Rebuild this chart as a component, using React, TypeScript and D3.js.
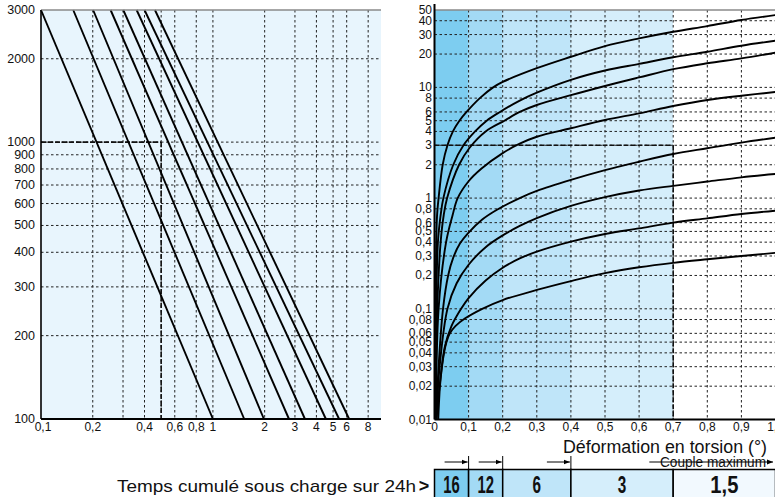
import React from 'react';
import * as d3 from 'd3';

// ---------- Left chart data ----------
const leftXTickValues = [0.1, 0.2, 0.4, 0.6, 0.8, 1, 2, 3, 4, 5, 6, 8];
const leftXGridValues = [0.2, 0.3, 0.4, 0.5, 0.6, 0.8, 1, 2, 3, 4, 5, 6, 8];
const leftYTickValues = [3000, 2000, 1000, 900, 800, 700, 600, 500, 400, 300, 200, 100];
// each straight line (log-log) given by its x value at y=3000 and at y=100
const leftLineXAt3000 = [0.1, 0.154, 0.201, 0.254, 0.301, 0.36, 0.4, 0.46];
const leftLineXAt100 = [1.0, 1.52, 1.98, 2.77, 3.43, 4.54, 5.42, 6.2];
const leftRefX = 0.5;
const leftRefY = 1000;

// ---------- Right chart data ----------
const rightXTickValues = [0, 0.1, 0.2, 0.3, 0.4, 0.5, 0.6, 0.7, 0.8, 0.9, 1.0];
const rightYTickValues = [50, 40, 30, 20, 10, 8, 6, 5, 4, 3, 2, 1, 0.8, 0.6, 0.5, 0.4, 0.3, 0.2, 0.1, 0.08, 0.06, 0.05, 0.04, 0.03, 0.02, 0.01];
const bandEdges = [0, 0.1, 0.2, 0.4, 0.7, 1.0];
const bandFills = ['#7dcdf0', '#a3daf5', '#bfe5f9', '#d5eefb', '#ffffff'];
const tableFills = ['#7dcdf0', '#a3daf5', '#bfe5f9', '#d5eefb', '#f2f9fe'];
const hoursLabels = ['16', '12', '6', '3', '1,5'];
const rightRefX = 0.7;
const rightRefY = 3;

const curve1: [number, number][] = [[0.002, 0.01], [0.003, 0.1], [0.005, 0.4], [0.0075, 0.7], [0.012, 1], [0.024, 2], [0.038, 3], [0.054, 4], [0.073, 5], [0.094, 6], [0.133, 8], [0.172, 10], [0.2, 11.2], [0.3, 14.9], [0.4, 18.9], [0.5, 23.6], [0.6, 27.7], [0.7, 31.8], [0.8, 35.8], [0.9, 40.6], [1.0, 45]];
const curve2: [number, number][] = [[0.002, 0.01], [0.005, 0.1], [0.01, 0.4], [0.018, 0.7], [0.026, 1], [0.055, 2], [0.085, 3], [0.119, 4], [0.153, 5], [0.192, 6], [0.25, 7.6], [0.3, 8.96], [0.4, 11.7], [0.5, 14.2], [0.6, 16.3], [0.7, 18.7], [0.8, 21], [0.9, 23.8], [1.0, 26.4]];
const curve3: [number, number][] = [[0.003, 0.01], [0.008, 0.1], [0.018, 0.4], [0.027, 0.7], [0.037, 1], [0.072, 2], [0.103, 2.85], [0.15, 4], [0.205, 5], [0.25, 6.0], [0.3, 6.93], [0.4, 8.5], [0.5, 10.3], [0.6, 12.3], [0.7, 14.6], [0.8, 16.5], [0.9, 18.3], [1.0, 20.6]];
const curve4: [number, number][] = [[0.004, 0.01], [0.012, 0.1], [0.034, 0.4], [0.053, 0.7], [0.068, 1], [0.1, 1.42], [0.138, 1.85], [0.2, 2.55], [0.25, 3.1], [0.3, 3.58], [0.4, 4.27], [0.5, 5.07], [0.6, 5.83], [0.7, 6.79], [0.8, 7.69], [0.9, 8.41], [1.0, 9.08]];
const curve5: [number, number][] = [[0.005, 0.01], [0.012, 0.03], [0.025, 0.1], [0.04, 0.2], [0.055, 0.29], [0.075, 0.39], [0.098, 0.48], [0.14, 0.64], [0.182, 0.78], [0.25, 1.0], [0.3, 1.16], [0.4, 1.46], [0.5, 1.79], [0.6, 2.13], [0.7, 2.5], [0.8, 2.82], [0.9, 3.17], [1.0, 3.51]];
const curve6: [number, number][] = [[0.005, 0.01], [0.015, 0.03], [0.038, 0.1], [0.065, 0.17], [0.1, 0.25], [0.15, 0.36], [0.2, 0.46], [0.25, 0.56], [0.3, 0.66], [0.4, 0.85], [0.5, 1.02], [0.6, 1.17], [0.7, 1.29], [0.8, 1.41], [0.9, 1.54], [1.0, 1.65]];
const curve7: [number, number][] = [[0.006, 0.01], [0.015, 0.02], [0.03, 0.045], [0.05, 0.07], [0.078, 0.1], [0.1, 0.125], [0.15, 0.18], [0.2, 0.235], [0.25, 0.285], [0.3, 0.328], [0.4, 0.404], [0.5, 0.474], [0.6, 0.533], [0.7, 0.6], [0.8, 0.656], [0.9, 0.718], [1.0, 0.77]];
const curve8: [number, number][] = [[0.011, 0.01], [0.016, 0.02], [0.022, 0.03], [0.028, 0.04], [0.035, 0.05], [0.045, 0.06], [0.062, 0.07], [0.09, 0.082], [0.14, 0.1], [0.2, 0.12], [0.3, 0.148], [0.4, 0.178], [0.5, 0.21], [0.6, 0.237], [0.7, 0.26], [0.8, 0.28], [0.9, 0.3], [1.0, 0.32]];
const rightCurves = [curve1, curve2, curve3, curve4, curve5, curve6, curve7, curve8];

// ---------- Texts ----------
const xTitle = 'Déformation en torsion (°)';
const rowTitle = 'Temps cumulé sous charge sur 24h';
const coupleText = 'Couple maximum';

const FONT = "'Liberation Sans Narrow','Arial Narrow','Liberation Sans',Arial,sans-serif";
const fmt = (v: number) => String(v).replace('.', ',');

export default function App() {
  // left scales
  const xL = d3.scaleLog().domain([0.1, 9.5]).range([41, 381]);
  const yL = d3.scaleLog().domain([100, 3000]).range([419, 10]);
  // right scales
  const xR = d3.scaleLinear().domain([0, 1]).range([434.5, 775.5]);
  const yR = d3.scaleLog().domain([0.01, 50]).range([419.5, 10]);

  const grid = { stroke: '#222', strokeWidth: 1, strokeDasharray: '2.5,2.5' };
  const thick = { stroke: '#111', strokeWidth: 1.6, strokeDasharray: '5,2' };

  const lineGen = d3.line<[number, number]>()
    .x(d => xR(d[0]))
    .y(d => yR(d[1]))
    .curve(d3.curveCatmullRom.alpha(0.5));

  const tableTop = 469.5;
  const arrowY = 462;

  return (
    <svg width={775} height={497} style={{ position: 'absolute', left: 0, top: 0, fontFamily: FONT }}>
      <defs>
        <clipPath id="rclip">
          <rect x={xR(0)} y={yR(50)} width={xR(1) - xR(0)} height={yR(0.01) - yR(50)} />
        </clipPath>
        <marker id="ah" viewBox="0 0 10 10" refX="10" refY="5" markerWidth="6" markerHeight="6" orient="auto">
          <path d="M0,1 L10,5 L0,9 Z" fill="#000" />
        </marker>
      </defs>

      {/* ================= LEFT CHART ================= */}
      <rect x={xL(0.1)} y={yL(3000)} width={xL(9.5) - xL(0.1)} height={yL(100) - yL(3000)} fill="#e8f5fd" />
      {leftYTickValues.filter(v => v !== 3000 && v !== 100).map(v => (
        <line key={'lyg' + v} x1={xL(0.1)} x2={xL(9.5)} y1={yL(v)} y2={yL(v)} {...grid} />
      ))}
      {leftXGridValues.map(v => (
        <line key={'lxg' + v} x1={xL(v)} x2={xL(v)} y1={yL(3000)} y2={yL(100)} {...grid} />
      ))}
      <line x1={xL(0.1)} x2={xL(leftRefX)} y1={yL(leftRefY)} y2={yL(leftRefY)} {...thick} />
      <line x1={xL(leftRefX)} x2={xL(leftRefX)} y1={yL(leftRefY)} y2={yL(100)} {...thick} />
      {leftLineXAt3000.map((x0, i) => (
        <line key={'ll' + i} x1={xL(x0)} y1={yL(3000)} x2={xL(leftLineXAt100[i])} y2={yL(100)} stroke="#000" strokeWidth={1.9} />
      ))}
      <line x1={xL(0.1)} x2={xL(9.5)} y1={yL(3000)} y2={yL(3000)} stroke="#8a8a8a" strokeWidth={1.5} />
      <line x1={xL(0.1)} x2={xL(0.1)} y1={yL(3000)} y2={yL(100)} stroke="#000" strokeWidth={1.6} />
      <line x1={xL(0.1)} x2={xL(9.5)} y1={yL(100)} y2={yL(100)} stroke="#000" strokeWidth={2} />
      {leftYTickValues.map(v => (
        <text key={'lyt' + v} x={35} y={yL(v) + 4} textAnchor="end" fontSize={12.5} fill="#111">{fmt(v)}</text>
      ))}
      {leftXTickValues.map(v => (
        <text key={'lxt' + v} x={xL(v) + (v === 0.1 ? 2 : 0)} y={431} textAnchor="middle" fontSize={12} fill="#111">{fmt(v)}</text>
      ))}

      {/* ================= RIGHT CHART ================= */}
      {bandFills.map((f, i) => (
        <rect key={'band' + i} x={xR(bandEdges[i])} y={yR(50)} width={xR(bandEdges[i + 1]) - xR(bandEdges[i])} height={yR(0.01) - yR(50)} fill={f} />
      ))}
      {rightYTickValues.filter(v => v !== 50 && v !== 0.01).map(v => (
        <line key={'ryg' + v} x1={xR(0)} x2={xR(1)} y1={yR(v)} y2={yR(v)} {...grid} />
      ))}
      {rightXTickValues.filter(v => v > 0 && v < 1).map(v => (
        <line key={'rxg' + v} x1={xR(v)} x2={xR(v)} y1={yR(50)} y2={yR(0.01)} {...grid} />
      ))}
      <line x1={xR(0)} x2={xR(rightRefX)} y1={yR(rightRefY)} y2={yR(rightRefY)} {...thick} />
      <line x1={xR(rightRefX)} x2={xR(rightRefX)} y1={yR(rightRefY)} y2={yR(0.01)} {...thick} />
      <g clipPath="url(#rclip)">
        {rightCurves.map((c, i) => (
          <path key={'rc' + i} d={lineGen(c) || ''} fill="none" stroke="#000" strokeWidth={1.9} />
        ))}
      </g>
      <line x1={xR(0)} x2={xR(1)} y1={yR(50)} y2={yR(50)} stroke="#8a8a8a" strokeWidth={1.5} />
      <line x1={xR(0)} x2={xR(0)} y1={4} y2={yR(0.01)} stroke="#000" strokeWidth={2} />
      <line x1={xR(0)} x2={xR(1)} y1={yR(0.01)} y2={yR(0.01)} stroke="#000" strokeWidth={2} />
      {rightYTickValues.map(v => (
        <text key={'ryt' + v} x={432} y={yR(v) + 4} textAnchor="end" fontSize={12} fill="#111">{fmt(v)}</text>
      ))}
      {rightXTickValues.map(v => (
        <text key={'rxt' + v} x={xR(v)} y={431} textAnchor="middle" fontSize={12} fill="#111">{v === 0 ? '0' : v.toFixed(1).replace('.', ',')}</text>
      ))}
      <text x={767} y={453} textAnchor="end" fontSize={18} fill="#111" textLength={204} lengthAdjust="spacingAndGlyphs">{xTitle}</text>

      {/* ================= TABLE ================= */}
      {[0.1, 0.2, 0.4].map((b, i) => (
        <g key={'arr' + i}>
          <line x1={xR(b) - 24} x2={xR(b) - 1} y1={arrowY} y2={arrowY} stroke="#000" strokeWidth={1} markerEnd="url(#ah)" />
          <line x1={xR(b)} x2={xR(b)} y1={456} y2={tableTop} stroke="#000" strokeWidth={1} />
        </g>
      ))}
      <text x={713} y={467} textAnchor="middle" fontSize={14} fill="#111" textLength={106} lengthAdjust="spacingAndGlyphs">{coupleText}</text>
      <line x1={xR(0.63)} x2={773} y1={arrowY} y2={arrowY} stroke="#000" strokeWidth={1} markerEnd="url(#ah)" />
      {hoursLabels.map((lab, i) => (
        <g key={'cell' + i}>
          <rect x={xR(bandEdges[i])} y={tableTop} width={xR(bandEdges[i + 1]) - xR(bandEdges[i])} height={40} fill={tableFills[i]} stroke="#000" strokeWidth={1.5} />
          <text x={(xR(bandEdges[i]) + xR(bandEdges[i + 1])) / 2} y={492.5} textAnchor="middle" fontSize={24} fontWeight="bold" fill="#111"
            textLength={lab.length === 1 ? 8.5 : lab.length === 2 ? 16.5 : 28} lengthAdjust="spacingAndGlyphs">{lab}</text>
        </g>
      ))}
      <text x={416} y={492} textAnchor="end" fontSize={17} fill="#111" textLength={299} lengthAdjust="spacingAndGlyphs">{rowTitle}</text>
      <text x={424} y={492} textAnchor="middle" fontSize={18} fontWeight="bold" fill="#111">&gt;</text>
    </svg>
  );
}
